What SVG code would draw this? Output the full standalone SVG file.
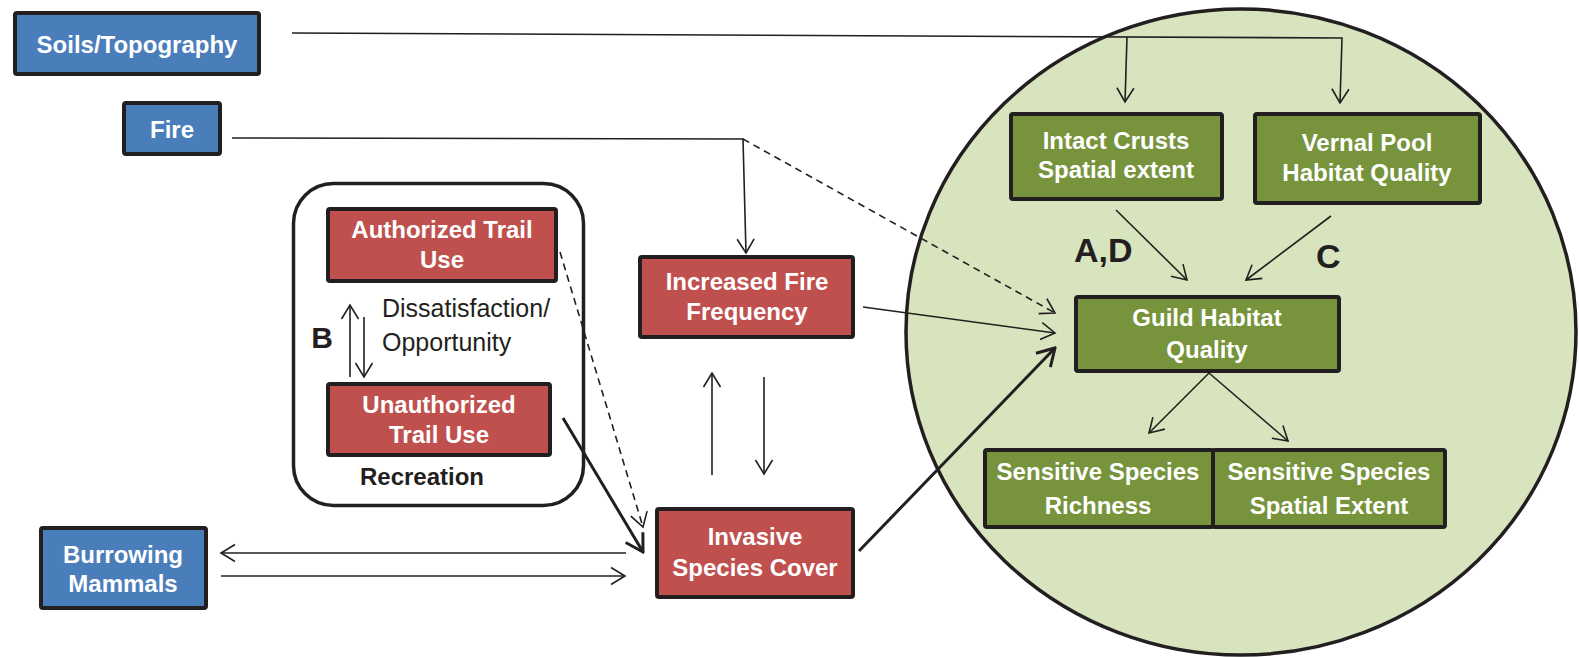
<svg xmlns="http://www.w3.org/2000/svg" width="1579" height="657" viewBox="0 0 1579 657">
<style>
.box{stroke:#231F20;stroke-width:4}
.blue{fill:#4A7EBB}
.red{fill:#C0504D}
.green{fill:#77933C}
.lbl{font-family:"Liberation Sans",Arial,sans-serif;font-weight:bold;font-size:24px;fill:#FFFFFF;text-anchor:middle}
.blk{font-family:"Liberation Sans",Arial,sans-serif;fill:#231F20}
.ln{fill:none;stroke:#231F20;stroke-width:1.6}
.thk{fill:none;stroke:#231F20;stroke-width:3}
.dash{stroke-dasharray:7,5}
</style>
<defs>
<marker id="ah" viewBox="-16 -11 18 22" refX="0" refY="0" markerUnits="userSpaceOnUse" markerWidth="18" markerHeight="22" orient="auto">
<path d="M-14,-8.5 L0,0 L-14,8.5" fill="none" stroke="#231F20" stroke-width="1.6"/>
</marker>
<marker id="ahT" viewBox="-20 -13 22 26" refX="0" refY="0" markerUnits="userSpaceOnUse" markerWidth="22" markerHeight="26" orient="auto">
<path d="M-17,-10 L0,0 L-17,10" fill="none" stroke="#231F20" stroke-width="3"/>
</marker>
</defs>

<g id="habitat-circle">
<ellipse cx="1241" cy="332" rx="335" ry="323" fill="#D7E4BD" stroke="#231F20" stroke-width="3.5"/>
</g>

<g id="connectors">
<polyline class="ln" points="292,33 1342,38 1340,103" marker-end="url(#ah)"/>
<line class="ln" x1="1127" y1="37" x2="1125" y2="102" marker-end="url(#ah)"/>
<polyline class="ln" points="232,138 743,139 746,253" marker-end="url(#ah)"/>
<line class="ln dash" x1="743" y1="139" x2="1055" y2="313" marker-end="url(#ah)"/>
<line class="ln" x1="863" y1="307" x2="1055" y2="333" marker-end="url(#ah)"/>
<line class="thk" x1="859" y1="551" x2="1055" y2="348" marker-end="url(#ahT)"/>
<line class="ln" x1="712" y1="475" x2="712" y2="373" marker-end="url(#ah)"/>
<line class="ln" x1="764" y1="377" x2="764" y2="474" marker-end="url(#ah)"/>
<line class="ln" x1="626" y1="553" x2="221" y2="553" marker-end="url(#ah)"/>
<line class="ln" x1="221" y1="576" x2="625" y2="576" marker-end="url(#ah)"/>
<line class="ln dash" x1="560" y1="252" x2="643" y2="527" marker-end="url(#ah)"/>
<line class="thk" x1="563" y1="418" x2="643" y2="552" marker-end="url(#ahT)"/>
<line class="ln" x1="350" y1="377" x2="350" y2="305" marker-end="url(#ah)"/>
<line class="ln" x1="364" y1="317" x2="364" y2="377" marker-end="url(#ah)"/>
<line class="ln" x1="1116" y1="210" x2="1187" y2="280" marker-end="url(#ah)"/>
<line class="ln" x1="1331" y1="216" x2="1246" y2="280" marker-end="url(#ah)"/>
<line class="ln" x1="1209" y1="373" x2="1149" y2="433" marker-end="url(#ah)"/>
<line class="ln" x1="1209" y1="373" x2="1288" y2="441" marker-end="url(#ah)"/>
</g>

<g id="soils">
<rect class="box blue" x="15" y="13" width="244" height="61" rx="2"/>
<text class="lbl" x="137" y="53">Soils/Topography</text>
</g>
<g id="fire">
<rect class="box blue" x="124" y="103" width="96" height="51" rx="2"/>
<text class="lbl" x="172" y="138">Fire</text>
</g>

<g id="recreation">
<rect x="293.5" y="183.5" width="290" height="322" rx="40" fill="none" stroke="#231F20" stroke-width="3.5"/>
<text class="blk" x="422" y="485" font-size="24" font-weight="bold" text-anchor="middle">Recreation</text>
<text class="blk" x="322" y="348" font-size="30" font-weight="bold" text-anchor="middle">B</text>
<text class="blk" x="382" y="317" font-size="25">Dissatisfaction/</text>
<text class="blk" x="382" y="351" font-size="25">Opportunity</text>
</g>
<g id="authorized">
<rect class="box red" x="328" y="209" width="228" height="72" rx="2"/>
<text class="lbl" x="442" y="238">Authorized Trail</text>
<text class="lbl" x="442" y="268">Use</text>
</g>
<g id="unauthorized">
<rect class="box red" x="328" y="384" width="222" height="71" rx="2"/>
<text class="lbl" x="439" y="413">Unauthorized</text>
<text class="lbl" x="439" y="443">Trail Use</text>
</g>

<g id="fire-frequency">
<rect class="box red" x="640" y="257" width="213" height="80" rx="2"/>
<text class="lbl" x="747" y="290">Increased Fire</text>
<text class="lbl" x="747" y="320">Frequency</text>
</g>
<g id="invasive">
<rect class="box red" x="657" y="509" width="196" height="88" rx="2"/>
<text class="lbl" x="755" y="545">Invasive</text>
<text class="lbl" x="755" y="576">Species Cover</text>
</g>
<g id="burrowing">
<rect class="box blue" x="41" y="528" width="165" height="80" rx="2"/>
<text class="lbl" x="123" y="563">Burrowing</text>
<text class="lbl" x="123" y="592">Mammals</text>
</g>

<g id="intact-crusts">
<rect class="box green" x="1011" y="114" width="211" height="85" rx="2"/>
<text class="lbl" x="1116" y="149">Intact Crusts</text>
<text class="lbl" x="1116" y="178">Spatial extent</text>
</g>
<g id="vernal-pool">
<rect class="box green" x="1255" y="114" width="225" height="89" rx="2"/>
<text class="lbl" x="1367" y="151">Vernal Pool</text>
<text class="lbl" x="1367" y="181">Habitat Quality</text>
</g>
<g id="guild">
<rect class="box green" x="1076" y="297" width="263" height="74" rx="2"/>
<text class="lbl" x="1207" y="326">Guild Habitat</text>
<text class="lbl" x="1207" y="358">Quality</text>
</g>
<g id="labels-ad-c">
<text class="blk" x="1074" y="262" font-size="34" font-weight="bold">A,D</text>
<text class="blk" x="1316" y="268" font-size="34" font-weight="bold">C</text>
</g>
<g id="ss-richness">
<rect class="box green" x="985" y="450" width="228" height="77" rx="2"/>
<text class="lbl" x="1098" y="480">Sensitive Species</text>
<text class="lbl" x="1098" y="514">Richness</text>
</g>
<g id="ss-extent">
<rect class="box green" x="1213" y="450" width="232" height="77" rx="2"/>
<text class="lbl" x="1329" y="480">Sensitive Species</text>
<text class="lbl" x="1329" y="514">Spatial Extent</text>
</g>
</svg>
